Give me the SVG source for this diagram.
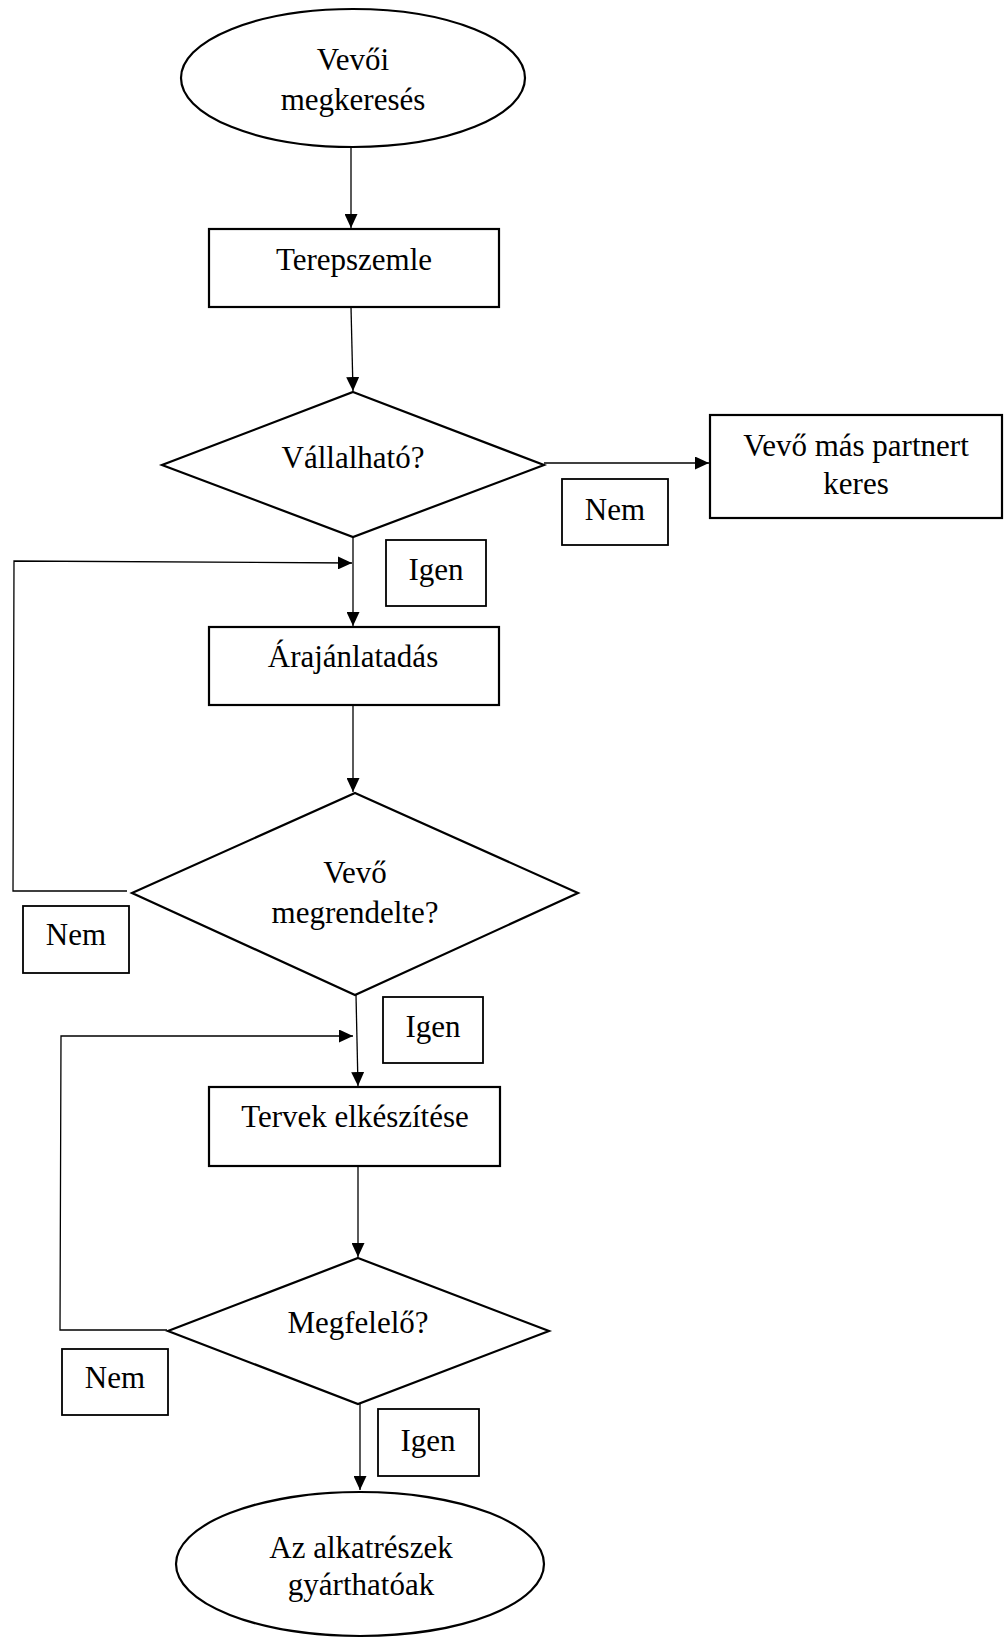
<svg xmlns="http://www.w3.org/2000/svg" width="1007" height="1638" viewBox="0 0 1007 1638">
<style>
.shape{fill:#fff;stroke:#000;stroke-width:2.2}
.lbl{fill:#fff;stroke:#000;stroke-width:1.8}
.con{fill:none;stroke:#000;stroke-width:1.3}
text{font-family:"Liberation Serif","Times New Roman",serif;font-size:31px;fill:#000;text-anchor:middle}
</style>
<defs>
<marker id="arr" markerUnits="userSpaceOnUse" markerWidth="15" markerHeight="13" refX="14" refY="6.5" orient="auto">
<path d="M0,0 L14,6.5 L0,13 z" fill="#000"/>
</marker>
</defs>
<rect width="1007" height="1638" fill="#fff"/>
<g id="connectors">
<line class="con" x1="351" y1="148" x2="351" y2="228" marker-end="url(#arr)"/>
<line class="con" x1="351" y1="307" x2="353" y2="391" marker-end="url(#arr)"/>
<line class="con" x1="544" y1="463" x2="709" y2="463" marker-end="url(#arr)"/>
<line class="con" x1="353" y1="537" x2="353" y2="626" marker-end="url(#arr)"/>
<polyline class="con" points="127,891 13,891 14,561 352,563" marker-end="url(#arr)"/>
<line class="con" x1="353" y1="706" x2="353" y2="792" marker-end="url(#arr)"/>
<line class="con" x1="356" y1="995" x2="358" y2="1086" marker-end="url(#arr)"/>
<polyline class="con" points="167,1330 60,1330 61,1036 353,1036" marker-end="url(#arr)"/>
<line class="con" x1="358" y1="1166" x2="358" y2="1257" marker-end="url(#arr)"/>
<line class="con" x1="360" y1="1404" x2="360" y2="1490" marker-end="url(#arr)"/>
</g>
<g id="start">
<ellipse class="shape" cx="353" cy="78" rx="172" ry="69"/>
<text x="353" y="70">Vevői</text>
<text x="353" y="110">megkeresés</text>
</g>
<g id="terepszemle">
<rect class="shape" x="209" y="229" width="290" height="78"/>
<text x="354" y="270">Terepszemle</text>
</g>
<g id="vallalhato">
<polygon class="shape" points="353,392 544,465 353,537 162,465"/>
<text x="353" y="468">Vállalható?</text>
</g>
<g id="mas-partner">
<rect class="shape" x="710" y="415" width="292" height="103"/>
<text x="856" y="456">Vevő más partnert</text>
<text x="856" y="494">keres</text>
</g>
<g id="nem1">
<rect class="lbl" x="562" y="479" width="106" height="66"/>
<text x="615" y="520">Nem</text>
</g>
<g id="igen1">
<rect class="lbl" x="386" y="540" width="100" height="66"/>
<text x="436" y="580">Igen</text>
</g>
<g id="arajanlat">
<rect class="shape" x="209" y="627" width="290" height="78"/>
<text x="353" y="667">Árajánlatadás</text>
</g>
<g id="megrendelte">
<polygon class="shape" points="355,793 578,893 355,995 132,893"/>
<text x="355" y="883">Vevő</text>
<text x="355" y="923">megrendelte?</text>
</g>
<g id="nem2">
<rect class="lbl" x="23" y="906" width="106" height="67"/>
<text x="76" y="945">Nem</text>
</g>
<g id="igen2">
<rect class="lbl" x="383" y="997" width="100" height="66"/>
<text x="433" y="1037">Igen</text>
</g>
<g id="tervek">
<rect class="shape" x="209" y="1087" width="291" height="79"/>
<text x="355" y="1127">Tervek elkészítése</text>
</g>
<g id="megfelelo">
<polygon class="shape" points="358,1258 549,1331 358,1404 168,1331"/>
<text x="358" y="1333">Megfelelő?</text>
</g>
<g id="nem3">
<rect class="lbl" x="62" y="1349" width="106" height="66"/>
<text x="115" y="1388">Nem</text>
</g>
<g id="igen3">
<rect class="lbl" x="378" y="1409" width="101" height="67"/>
<text x="428" y="1451">Igen</text>
</g>
<g id="end">
<ellipse class="shape" cx="360" cy="1564" rx="184" ry="72"/>
<text x="361" y="1558">Az alkatrészek</text>
<text x="361" y="1595">gyárthatóak</text>
</g>
</svg>
